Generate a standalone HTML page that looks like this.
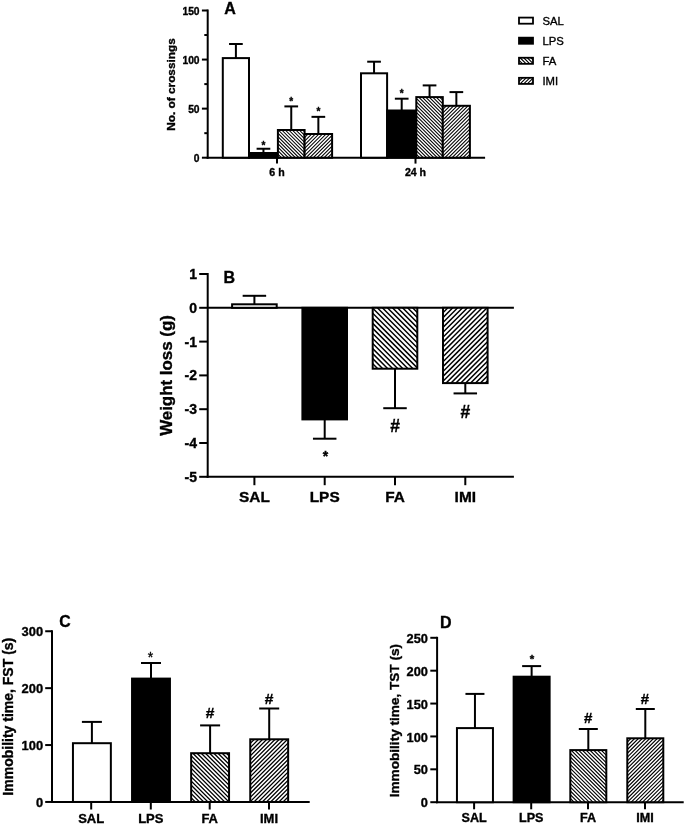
<!DOCTYPE html><html><head><meta charset="utf-8"><style>html,body{margin:0;padding:0;background:#fff;width:685px;height:824px;overflow:hidden}svg{display:block;will-change:transform;font-family:"Liberation Sans",sans-serif}text{stroke:#000;stroke-width:0.35px}</style></head><body>
<svg width="685" height="824" viewBox="0 0 685 824">
<rect width="685" height="824" fill="#fff"/>
<line x1="207.70" y1="9.50" x2="207.70" y2="158.70" stroke="#000" stroke-width="2.0"/>
<line x1="206.70" y1="157.70" x2="485.10" y2="157.70" stroke="#000" stroke-width="2.0"/>
<line x1="201.90" y1="157.70" x2="207.70" y2="157.70" stroke="#000" stroke-width="2.0"/>
<text x="199.60" y="161.80" font-size="10.3" text-anchor="end" font-weight="bold">0</text>
<line x1="201.90" y1="108.63" x2="207.70" y2="108.63" stroke="#000" stroke-width="2.0"/>
<text x="199.60" y="112.73" font-size="10.3" text-anchor="end" font-weight="bold">50</text>
<line x1="201.90" y1="59.57" x2="207.70" y2="59.57" stroke="#000" stroke-width="2.0"/>
<text x="199.60" y="63.67" font-size="10.3" text-anchor="end" font-weight="bold">100</text>
<line x1="201.90" y1="10.50" x2="207.70" y2="10.50" stroke="#000" stroke-width="2.0"/>
<text x="199.60" y="14.60" font-size="10.3" text-anchor="end" font-weight="bold">150</text>
<line x1="204.30" y1="133.17" x2="207.70" y2="133.17" stroke="#000" stroke-width="2.0"/>
<line x1="204.30" y1="84.10" x2="207.70" y2="84.10" stroke="#000" stroke-width="2.0"/>
<line x1="204.30" y1="35.03" x2="207.70" y2="35.03" stroke="#000" stroke-width="2.0"/>
<line x1="277.00" y1="157.70" x2="277.00" y2="163.60" stroke="#000" stroke-width="2.0"/>
<text x="277.00" y="176.00" font-size="10.6" text-anchor="middle" font-weight="bold">6 h</text>
<line x1="415.50" y1="157.70" x2="415.50" y2="163.60" stroke="#000" stroke-width="2.0"/>
<text x="415.50" y="176.00" font-size="10.6" text-anchor="middle" font-weight="bold">24 h</text>
<line x1="235.90" y1="58.10" x2="235.90" y2="44.00" stroke="#000" stroke-width="2.0"/>
<line x1="229.05" y1="44.00" x2="242.75" y2="44.00" stroke="#000" stroke-width="2.0"/>
<rect x="222.80" y="58.10" width="26.20" height="99.60" fill="#fff" stroke="#000" stroke-width="2.0"/>
<line x1="263.45" y1="153.00" x2="263.45" y2="148.75" stroke="#000" stroke-width="2.0"/>
<line x1="256.60" y1="148.75" x2="270.30" y2="148.75" stroke="#000" stroke-width="2.0"/>
<rect x="249.00" y="153.00" width="28.90" height="4.70" fill="#000" stroke="#000" stroke-width="2.0"/>
<text x="263.45" y="148.90" font-size="10" text-anchor="middle" font-weight="bold">*</text>
<line x1="291.25" y1="130.00" x2="291.25" y2="106.40" stroke="#000" stroke-width="2.0"/>
<line x1="284.40" y1="106.40" x2="298.10" y2="106.40" stroke="#000" stroke-width="2.0"/>
<rect x="277.90" y="130.00" width="26.70" height="27.70" fill="#fff"/>
<clipPath id="hc1"><rect x="277.90" y="130.00" width="26.70" height="27.70"/></clipPath>
<path d="M246.70 130.00L274.40 157.70M250.20 130.00L277.90 157.70M253.70 130.00L281.40 157.70M257.20 130.00L284.90 157.70M260.70 130.00L288.40 157.70M264.20 130.00L291.90 157.70M267.70 130.00L295.40 157.70M271.20 130.00L298.90 157.70M274.70 130.00L302.40 157.70M278.20 130.00L305.90 157.70M281.70 130.00L309.40 157.70M285.20 130.00L312.90 157.70M288.70 130.00L316.40 157.70M292.20 130.00L319.90 157.70M295.70 130.00L323.40 157.70M299.20 130.00L326.90 157.70M302.70 130.00L330.40 157.70M306.20 130.00L333.90 157.70" stroke="#000" stroke-width="1.05" fill="none" clip-path="url(#hc1)"/>
<rect x="277.90" y="130.00" width="26.70" height="27.70" fill="none" stroke="#000" stroke-width="2.0"/>
<text x="291.25" y="104.80" font-size="10" text-anchor="middle" font-weight="bold">*</text>
<line x1="318.35" y1="134.00" x2="318.35" y2="116.85" stroke="#000" stroke-width="2.0"/>
<line x1="311.50" y1="116.85" x2="325.20" y2="116.85" stroke="#000" stroke-width="2.0"/>
<rect x="304.60" y="134.00" width="27.50" height="23.70" fill="#fff"/>
<clipPath id="hc2"><rect x="304.60" y="134.00" width="27.50" height="23.70"/></clipPath>
<path d="M277.30 157.70L301.00 134.00M280.90 157.70L304.60 134.00M284.50 157.70L308.20 134.00M288.10 157.70L311.80 134.00M291.70 157.70L315.40 134.00M295.30 157.70L319.00 134.00M298.90 157.70L322.60 134.00M302.50 157.70L326.20 134.00M306.10 157.70L329.80 134.00M309.70 157.70L333.40 134.00M313.30 157.70L337.00 134.00M316.90 157.70L340.60 134.00M320.50 157.70L344.20 134.00M324.10 157.70L347.80 134.00M327.70 157.70L351.40 134.00M331.30 157.70L355.00 134.00M334.90 157.70L358.60 134.00" stroke="#000" stroke-width="1.05" fill="none" clip-path="url(#hc2)"/>
<rect x="304.60" y="134.00" width="27.50" height="23.70" fill="none" stroke="#000" stroke-width="2.0"/>
<text x="318.35" y="114.70" font-size="10" text-anchor="middle" font-weight="bold">*</text>
<line x1="374.05" y1="73.30" x2="374.05" y2="61.70" stroke="#000" stroke-width="2.0"/>
<line x1="367.20" y1="61.70" x2="380.90" y2="61.70" stroke="#000" stroke-width="2.0"/>
<rect x="361.00" y="73.30" width="26.10" height="84.40" fill="#fff" stroke="#000" stroke-width="2.0"/>
<line x1="401.70" y1="110.50" x2="401.70" y2="98.70" stroke="#000" stroke-width="2.0"/>
<line x1="394.85" y1="98.70" x2="408.55" y2="98.70" stroke="#000" stroke-width="2.0"/>
<rect x="387.10" y="110.50" width="29.20" height="47.20" fill="#000" stroke="#000" stroke-width="2.0"/>
<text x="401.70" y="97.30" font-size="10" text-anchor="middle" font-weight="bold">*</text>
<line x1="429.55" y1="97.10" x2="429.55" y2="85.40" stroke="#000" stroke-width="2.0"/>
<line x1="422.70" y1="85.40" x2="436.40" y2="85.40" stroke="#000" stroke-width="2.0"/>
<rect x="416.30" y="97.10" width="26.50" height="60.60" fill="#fff"/>
<clipPath id="hc3"><rect x="416.30" y="97.10" width="26.50" height="60.60"/></clipPath>
<path d="M352.20 97.10L412.80 157.70M355.70 97.10L416.30 157.70M359.20 97.10L419.80 157.70M362.70 97.10L423.30 157.70M366.20 97.10L426.80 157.70M369.70 97.10L430.30 157.70M373.20 97.10L433.80 157.70M376.70 97.10L437.30 157.70M380.20 97.10L440.80 157.70M383.70 97.10L444.30 157.70M387.20 97.10L447.80 157.70M390.70 97.10L451.30 157.70M394.20 97.10L454.80 157.70M397.70 97.10L458.30 157.70M401.20 97.10L461.80 157.70M404.70 97.10L465.30 157.70M408.20 97.10L468.80 157.70M411.70 97.10L472.30 157.70M415.20 97.10L475.80 157.70M418.70 97.10L479.30 157.70M422.20 97.10L482.80 157.70M425.70 97.10L486.30 157.70M429.20 97.10L489.80 157.70M432.70 97.10L493.30 157.70M436.20 97.10L496.80 157.70M439.70 97.10L500.30 157.70M443.20 97.10L503.80 157.70" stroke="#000" stroke-width="1.05" fill="none" clip-path="url(#hc3)"/>
<rect x="416.30" y="97.10" width="26.50" height="60.60" fill="none" stroke="#000" stroke-width="2.0"/>
<line x1="456.35" y1="105.80" x2="456.35" y2="92.10" stroke="#000" stroke-width="2.0"/>
<line x1="449.50" y1="92.10" x2="463.20" y2="92.10" stroke="#000" stroke-width="2.0"/>
<rect x="442.80" y="105.80" width="27.10" height="51.90" fill="#fff"/>
<clipPath id="hc4"><rect x="442.80" y="105.80" width="27.10" height="51.90"/></clipPath>
<path d="M387.30 157.70L439.20 105.80M390.90 157.70L442.80 105.80M394.50 157.70L446.40 105.80M398.10 157.70L450.00 105.80M401.70 157.70L453.60 105.80M405.30 157.70L457.20 105.80M408.90 157.70L460.80 105.80M412.50 157.70L464.40 105.80M416.10 157.70L468.00 105.80M419.70 157.70L471.60 105.80M423.30 157.70L475.20 105.80M426.90 157.70L478.80 105.80M430.50 157.70L482.40 105.80M434.10 157.70L486.00 105.80M437.70 157.70L489.60 105.80M441.30 157.70L493.20 105.80M444.90 157.70L496.80 105.80M448.50 157.70L500.40 105.80M452.10 157.70L504.00 105.80M455.70 157.70L507.60 105.80M459.30 157.70L511.20 105.80M462.90 157.70L514.80 105.80M466.50 157.70L518.40 105.80M470.10 157.70L522.00 105.80" stroke="#000" stroke-width="1.05" fill="none" clip-path="url(#hc4)"/>
<rect x="442.80" y="105.80" width="27.10" height="51.90" fill="none" stroke="#000" stroke-width="2.0"/>
<text x="224.30" y="13.60" font-size="16" text-anchor="start" font-weight="bold">A</text>
<text x="0" y="0" font-size="11.8" text-anchor="middle" font-weight="bold" transform="translate(174.80,84.50) rotate(-90)">No. of crossings</text>
<rect x="519.00" y="17.60" width="14.00" height="6.10" fill="#fff" stroke="#000" stroke-width="1.8"/>
<text x="542.40" y="24.55" font-size="11.3" text-anchor="start" font-weight="normal">SAL</text>
<rect x="519.00" y="37.67" width="14.00" height="6.10" fill="#000" stroke="#000" stroke-width="1.8"/>
<text x="542.40" y="44.62" font-size="11.3" text-anchor="start" font-weight="normal">LPS</text>
<rect x="519.00" y="57.74" width="14.00" height="6.10" fill="#fff"/>
<clipPath id="hc5"><rect x="519.00" y="57.74" width="14.00" height="6.10"/></clipPath>
<path d="M509.30 57.74L515.40 63.84M512.90 57.74L519.00 63.84M516.50 57.74L522.60 63.84M520.10 57.74L526.20 63.84M523.70 57.74L529.80 63.84M527.30 57.74L533.40 63.84M530.90 57.74L537.00 63.84M534.50 57.74L540.60 63.84" stroke="#000" stroke-width="1.1" fill="none" clip-path="url(#hc5)"/>
<rect x="519.00" y="57.74" width="14.00" height="6.10" fill="none" stroke="#000" stroke-width="1.8"/>
<text x="542.40" y="64.69" font-size="11.3" text-anchor="start" font-weight="normal">FA</text>
<rect x="519.00" y="77.81" width="14.00" height="6.10" fill="#fff"/>
<clipPath id="hc6"><rect x="519.00" y="77.81" width="14.00" height="6.10"/></clipPath>
<path d="M509.30 83.91L515.40 77.81M512.90 83.91L519.00 77.81M516.50 83.91L522.60 77.81M520.10 83.91L526.20 77.81M523.70 83.91L529.80 77.81M527.30 83.91L533.40 77.81M530.90 83.91L537.00 77.81M534.50 83.91L540.60 77.81" stroke="#000" stroke-width="1.1" fill="none" clip-path="url(#hc6)"/>
<rect x="519.00" y="77.81" width="14.00" height="6.10" fill="none" stroke="#000" stroke-width="1.8"/>
<text x="542.40" y="84.76" font-size="11.3" text-anchor="start" font-weight="normal">IMI</text>
<line x1="207.70" y1="273.00" x2="207.70" y2="477.80" stroke="#000" stroke-width="2.0"/>
<line x1="206.70" y1="476.80" x2="513.90" y2="476.80" stroke="#000" stroke-width="2.0"/>
<line x1="207.70" y1="307.80" x2="513.90" y2="307.80" stroke="#000" stroke-width="2.0"/>
<line x1="199.20" y1="274.00" x2="207.70" y2="274.00" stroke="#000" stroke-width="2.0"/>
<text x="197.00" y="279.00" font-size="14" text-anchor="end" font-weight="bold">1</text>
<line x1="199.20" y1="307.80" x2="207.70" y2="307.80" stroke="#000" stroke-width="2.0"/>
<text x="197.00" y="312.80" font-size="14" text-anchor="end" font-weight="bold">0</text>
<line x1="199.20" y1="341.60" x2="207.70" y2="341.60" stroke="#000" stroke-width="2.0"/>
<text x="197.00" y="346.60" font-size="14" text-anchor="end" font-weight="bold">-1</text>
<line x1="199.20" y1="375.40" x2="207.70" y2="375.40" stroke="#000" stroke-width="2.0"/>
<text x="197.00" y="380.40" font-size="14" text-anchor="end" font-weight="bold">-2</text>
<line x1="199.20" y1="409.20" x2="207.70" y2="409.20" stroke="#000" stroke-width="2.0"/>
<text x="197.00" y="414.20" font-size="14" text-anchor="end" font-weight="bold">-3</text>
<line x1="199.20" y1="443.00" x2="207.70" y2="443.00" stroke="#000" stroke-width="2.0"/>
<text x="197.00" y="448.00" font-size="14" text-anchor="end" font-weight="bold">-4</text>
<line x1="199.20" y1="476.80" x2="207.70" y2="476.80" stroke="#000" stroke-width="2.0"/>
<text x="197.00" y="481.80" font-size="14" text-anchor="end" font-weight="bold">-5</text>
<line x1="254.40" y1="476.80" x2="254.40" y2="485.20" stroke="#000" stroke-width="2.0"/>
<text x="254.40" y="502.20" font-size="15.4" text-anchor="middle" font-weight="bold">SAL</text>
<line x1="324.70" y1="476.80" x2="324.70" y2="485.20" stroke="#000" stroke-width="2.0"/>
<text x="324.70" y="502.20" font-size="15.4" text-anchor="middle" font-weight="bold">LPS</text>
<line x1="395.00" y1="476.80" x2="395.00" y2="485.20" stroke="#000" stroke-width="2.0"/>
<text x="395.00" y="502.20" font-size="15.4" text-anchor="middle" font-weight="bold">FA</text>
<line x1="465.30" y1="476.80" x2="465.30" y2="485.20" stroke="#000" stroke-width="2.0"/>
<text x="465.30" y="502.20" font-size="15.4" text-anchor="middle" font-weight="bold">IMI</text>
<line x1="254.40" y1="304.30" x2="254.40" y2="295.80" stroke="#000" stroke-width="2.0"/>
<line x1="242.65" y1="295.80" x2="266.15" y2="295.80" stroke="#000" stroke-width="2.0"/>
<rect x="232.10" y="304.30" width="44.60" height="3.50" fill="#fff" stroke="#000" stroke-width="2.0"/>
<line x1="324.70" y1="419.40" x2="324.70" y2="438.70" stroke="#000" stroke-width="2.0"/>
<line x1="312.95" y1="438.70" x2="336.45" y2="438.70" stroke="#000" stroke-width="2.0"/>
<rect x="302.40" y="307.80" width="44.60" height="111.60" fill="#000" stroke="#000" stroke-width="2.0"/>
<line x1="395.00" y1="368.70" x2="395.00" y2="408.20" stroke="#000" stroke-width="2.0"/>
<line x1="383.25" y1="408.20" x2="406.75" y2="408.20" stroke="#000" stroke-width="2.0"/>
<rect x="372.70" y="307.80" width="44.60" height="60.90" fill="#fff"/>
<clipPath id="hc7"><rect x="372.70" y="307.80" width="44.60" height="60.90"/></clipPath>
<path d="M306.76 307.80L367.66 368.70M311.80 307.80L372.70 368.70M316.84 307.80L377.74 368.70M321.88 307.80L382.78 368.70M326.92 307.80L387.82 368.70M331.96 307.80L392.86 368.70M337.00 307.80L397.90 368.70M342.04 307.80L402.94 368.70M347.08 307.80L407.98 368.70M352.12 307.80L413.02 368.70M357.16 307.80L418.06 368.70M362.20 307.80L423.10 368.70M367.24 307.80L428.14 368.70M372.28 307.80L433.18 368.70M377.32 307.80L438.22 368.70M382.36 307.80L443.26 368.70M387.40 307.80L448.30 368.70M392.44 307.80L453.34 368.70M397.48 307.80L458.38 368.70M402.52 307.80L463.42 368.70M407.56 307.80L468.46 368.70M412.60 307.80L473.50 368.70M417.64 307.80L478.54 368.70" stroke="#000" stroke-width="1.5" fill="none" clip-path="url(#hc7)"/>
<rect x="372.70" y="307.80" width="44.60" height="60.90" fill="none" stroke="#000" stroke-width="2.0"/>
<line x1="465.30" y1="383.10" x2="465.30" y2="393.40" stroke="#000" stroke-width="2.0"/>
<line x1="453.55" y1="393.40" x2="477.05" y2="393.40" stroke="#000" stroke-width="2.0"/>
<rect x="443.00" y="307.80" width="44.60" height="75.30" fill="#fff"/>
<clipPath id="hc8"><rect x="443.00" y="307.80" width="44.60" height="75.30"/></clipPath>
<path d="M362.80 383.10L438.10 307.80M367.70 383.10L443.00 307.80M372.60 383.10L447.90 307.80M377.50 383.10L452.80 307.80M382.40 383.10L457.70 307.80M387.30 383.10L462.60 307.80M392.20 383.10L467.50 307.80M397.10 383.10L472.40 307.80M402.00 383.10L477.30 307.80M406.90 383.10L482.20 307.80M411.80 383.10L487.10 307.80M416.70 383.10L492.00 307.80M421.60 383.10L496.90 307.80M426.50 383.10L501.80 307.80M431.40 383.10L506.70 307.80M436.30 383.10L511.60 307.80M441.20 383.10L516.50 307.80M446.10 383.10L521.40 307.80M451.00 383.10L526.30 307.80M455.90 383.10L531.20 307.80M460.80 383.10L536.10 307.80M465.70 383.10L541.00 307.80M470.60 383.10L545.90 307.80M475.50 383.10L550.80 307.80M480.40 383.10L555.70 307.80M485.30 383.10L560.60 307.80M490.20 383.10L565.50 307.80" stroke="#000" stroke-width="1.45" fill="none" clip-path="url(#hc8)"/>
<rect x="443.00" y="307.80" width="44.60" height="75.30" fill="none" stroke="#000" stroke-width="2.0"/>
<text x="325.40" y="460.50" font-size="14" text-anchor="middle" font-weight="bold">*</text>
<text x="395.15" y="431.80" font-size="17.5" text-anchor="middle" font-weight="bold">#</text>
<text x="465.45" y="418.20" font-size="17.5" text-anchor="middle" font-weight="bold">#</text>
<text x="223.50" y="282.90" font-size="16" text-anchor="start" font-weight="bold">B</text>
<text x="0" y="0" font-size="16.9" text-anchor="middle" font-weight="bold" transform="translate(172.20,375.50) rotate(-90)">Weight loss (g)</text>
<line x1="52.00" y1="630.25" x2="52.00" y2="802.95" stroke="#000" stroke-width="2.0"/>
<line x1="51.00" y1="801.95" x2="309.70" y2="801.95" stroke="#000" stroke-width="2.0"/>
<line x1="45.20" y1="801.95" x2="52.00" y2="801.95" stroke="#000" stroke-width="2.0"/>
<text x="43.10" y="806.55" font-size="12.9" text-anchor="end" font-weight="bold">0</text>
<line x1="45.20" y1="745.05" x2="52.00" y2="745.05" stroke="#000" stroke-width="2.0"/>
<text x="43.10" y="749.65" font-size="12.9" text-anchor="end" font-weight="bold">100</text>
<line x1="45.20" y1="688.15" x2="52.00" y2="688.15" stroke="#000" stroke-width="2.0"/>
<text x="43.10" y="692.75" font-size="12.9" text-anchor="end" font-weight="bold">200</text>
<line x1="45.20" y1="631.25" x2="52.00" y2="631.25" stroke="#000" stroke-width="2.0"/>
<text x="43.10" y="635.85" font-size="12.9" text-anchor="end" font-weight="bold">300</text>
<line x1="91.20" y1="801.95" x2="91.20" y2="809.50" stroke="#000" stroke-width="2.0"/>
<text x="91.20" y="822.60" font-size="13.0" text-anchor="middle" font-weight="bold">SAL</text>
<line x1="150.80" y1="801.95" x2="150.80" y2="809.50" stroke="#000" stroke-width="2.0"/>
<text x="150.80" y="822.60" font-size="13.0" text-anchor="middle" font-weight="bold">LPS</text>
<line x1="209.70" y1="801.95" x2="209.70" y2="809.50" stroke="#000" stroke-width="2.0"/>
<text x="209.70" y="822.60" font-size="13.0" text-anchor="middle" font-weight="bold">FA</text>
<line x1="269.00" y1="801.95" x2="269.00" y2="809.50" stroke="#000" stroke-width="2.0"/>
<text x="269.00" y="822.60" font-size="13.0" text-anchor="middle" font-weight="bold">IMI</text>
<line x1="91.90" y1="743.20" x2="91.90" y2="721.90" stroke="#000" stroke-width="2.0"/>
<line x1="81.90" y1="721.90" x2="101.90" y2="721.90" stroke="#000" stroke-width="2.0"/>
<rect x="72.95" y="743.20" width="37.90" height="58.75" fill="#fff" stroke="#000" stroke-width="2.0"/>
<line x1="151.00" y1="678.60" x2="151.00" y2="663.00" stroke="#000" stroke-width="2.0"/>
<line x1="141.00" y1="663.00" x2="161.00" y2="663.00" stroke="#000" stroke-width="2.0"/>
<rect x="132.05" y="678.60" width="37.90" height="123.35" fill="#000" stroke="#000" stroke-width="2.0"/>
<line x1="210.10" y1="753.20" x2="210.10" y2="725.40" stroke="#000" stroke-width="2.0"/>
<line x1="200.10" y1="725.40" x2="220.10" y2="725.40" stroke="#000" stroke-width="2.0"/>
<rect x="191.15" y="753.20" width="37.90" height="48.75" fill="#fff"/>
<clipPath id="hc9"><rect x="191.15" y="753.20" width="37.90" height="48.75"/></clipPath>
<path d="M138.20 753.20L186.95 801.95M142.40 753.20L191.15 801.95M146.60 753.20L195.35 801.95M150.80 753.20L199.55 801.95M155.00 753.20L203.75 801.95M159.20 753.20L207.95 801.95M163.40 753.20L212.15 801.95M167.60 753.20L216.35 801.95M171.80 753.20L220.55 801.95M176.00 753.20L224.75 801.95M180.20 753.20L228.95 801.95M184.40 753.20L233.15 801.95M188.60 753.20L237.35 801.95M192.80 753.20L241.55 801.95M197.00 753.20L245.75 801.95M201.20 753.20L249.95 801.95M205.40 753.20L254.15 801.95M209.60 753.20L258.35 801.95M213.80 753.20L262.55 801.95M218.00 753.20L266.75 801.95M222.20 753.20L270.95 801.95M226.40 753.20L275.15 801.95M230.60 753.20L279.35 801.95" stroke="#000" stroke-width="1.3" fill="none" clip-path="url(#hc9)"/>
<rect x="191.15" y="753.20" width="37.90" height="48.75" fill="none" stroke="#000" stroke-width="2.0"/>
<line x1="269.20" y1="739.30" x2="269.20" y2="708.50" stroke="#000" stroke-width="2.0"/>
<line x1="259.20" y1="708.50" x2="279.20" y2="708.50" stroke="#000" stroke-width="2.0"/>
<rect x="250.25" y="739.30" width="37.90" height="62.65" fill="#fff"/>
<clipPath id="hc10"><rect x="250.25" y="739.30" width="37.90" height="62.65"/></clipPath>
<path d="M183.45 801.95L246.10 739.30M187.60 801.95L250.25 739.30M191.75 801.95L254.40 739.30M195.90 801.95L258.55 739.30M200.05 801.95L262.70 739.30M204.20 801.95L266.85 739.30M208.35 801.95L271.00 739.30M212.50 801.95L275.15 739.30M216.65 801.95L279.30 739.30M220.80 801.95L283.45 739.30M224.95 801.95L287.60 739.30M229.10 801.95L291.75 739.30M233.25 801.95L295.90 739.30M237.40 801.95L300.05 739.30M241.55 801.95L304.20 739.30M245.70 801.95L308.35 739.30M249.85 801.95L312.50 739.30M254.00 801.95L316.65 739.30M258.15 801.95L320.80 739.30M262.30 801.95L324.95 739.30M266.45 801.95L329.10 739.30M270.60 801.95L333.25 739.30M274.75 801.95L337.40 739.30M278.90 801.95L341.55 739.30M283.05 801.95L345.70 739.30M287.20 801.95L349.85 739.30M291.35 801.95L354.00 739.30" stroke="#000" stroke-width="1.3" fill="none" clip-path="url(#hc10)"/>
<rect x="250.25" y="739.30" width="37.90" height="62.65" fill="none" stroke="#000" stroke-width="2.0"/>
<text x="150.50" y="661.90" font-size="14" text-anchor="middle" font-weight="normal">*</text>
<text x="210.00" y="718.10" font-size="15.5" text-anchor="middle" font-weight="bold">#</text>
<text x="269.00" y="703.80" font-size="15.5" text-anchor="middle" font-weight="bold">#</text>
<text x="59.20" y="626.80" font-size="15.8" text-anchor="start" font-weight="bold">C</text>
<text x="0" y="0" font-size="14.0" text-anchor="middle" font-weight="bold" transform="translate(13.00,716.70) rotate(-90)">Immobility time, FST (s)</text>
<line x1="437.10" y1="636.80" x2="437.10" y2="803.20" stroke="#000" stroke-width="2.0"/>
<line x1="436.10" y1="802.20" x2="683.70" y2="802.20" stroke="#000" stroke-width="2.0"/>
<line x1="430.30" y1="802.20" x2="437.10" y2="802.20" stroke="#000" stroke-width="2.0"/>
<text x="427.90" y="807.30" font-size="12.8" text-anchor="end" font-weight="bold">0</text>
<line x1="430.30" y1="769.32" x2="437.10" y2="769.32" stroke="#000" stroke-width="2.0"/>
<text x="427.90" y="774.42" font-size="12.8" text-anchor="end" font-weight="bold">50</text>
<line x1="430.30" y1="736.44" x2="437.10" y2="736.44" stroke="#000" stroke-width="2.0"/>
<text x="427.90" y="741.54" font-size="12.8" text-anchor="end" font-weight="bold">100</text>
<line x1="430.30" y1="703.56" x2="437.10" y2="703.56" stroke="#000" stroke-width="2.0"/>
<text x="427.90" y="708.66" font-size="12.8" text-anchor="end" font-weight="bold">150</text>
<line x1="430.30" y1="670.68" x2="437.10" y2="670.68" stroke="#000" stroke-width="2.0"/>
<text x="427.90" y="675.78" font-size="12.8" text-anchor="end" font-weight="bold">200</text>
<line x1="430.30" y1="637.80" x2="437.10" y2="637.80" stroke="#000" stroke-width="2.0"/>
<text x="427.90" y="642.90" font-size="12.8" text-anchor="end" font-weight="bold">250</text>
<line x1="474.10" y1="802.20" x2="474.10" y2="809.30" stroke="#000" stroke-width="2.0"/>
<text x="474.10" y="822.10" font-size="12.6" text-anchor="middle" font-weight="bold">SAL</text>
<line x1="531.20" y1="802.20" x2="531.20" y2="809.30" stroke="#000" stroke-width="2.0"/>
<text x="531.20" y="822.10" font-size="12.6" text-anchor="middle" font-weight="bold">LPS</text>
<line x1="588.00" y1="802.20" x2="588.00" y2="809.30" stroke="#000" stroke-width="2.0"/>
<text x="588.00" y="822.10" font-size="12.6" text-anchor="middle" font-weight="bold">FA</text>
<line x1="645.00" y1="802.20" x2="645.00" y2="809.30" stroke="#000" stroke-width="2.0"/>
<text x="645.00" y="822.10" font-size="12.6" text-anchor="middle" font-weight="bold">IMI</text>
<line x1="474.95" y1="728.10" x2="474.95" y2="693.90" stroke="#000" stroke-width="2.0"/>
<line x1="465.45" y1="693.90" x2="484.45" y2="693.90" stroke="#000" stroke-width="2.0"/>
<rect x="456.95" y="728.10" width="36.00" height="74.10" fill="#fff" stroke="#000" stroke-width="2.0"/>
<line x1="531.63" y1="676.70" x2="531.63" y2="666.10" stroke="#000" stroke-width="2.0"/>
<line x1="522.13" y1="666.10" x2="541.13" y2="666.10" stroke="#000" stroke-width="2.0"/>
<rect x="513.63" y="676.70" width="36.00" height="125.50" fill="#000" stroke="#000" stroke-width="2.0"/>
<line x1="588.31" y1="750.10" x2="588.31" y2="729.00" stroke="#000" stroke-width="2.0"/>
<line x1="578.81" y1="729.00" x2="597.81" y2="729.00" stroke="#000" stroke-width="2.0"/>
<rect x="570.31" y="750.10" width="36.00" height="52.10" fill="#fff"/>
<clipPath id="hc11"><rect x="570.31" y="750.10" width="36.00" height="52.10"/></clipPath>
<path d="M514.44 750.10L566.54 802.20M518.21 750.10L570.31 802.20M521.98 750.10L574.08 802.20M525.75 750.10L577.85 802.20M529.52 750.10L581.62 802.20M533.29 750.10L585.39 802.20M537.06 750.10L589.16 802.20M540.83 750.10L592.93 802.20M544.60 750.10L596.70 802.20M548.37 750.10L600.47 802.20M552.14 750.10L604.24 802.20M555.91 750.10L608.01 802.20M559.68 750.10L611.78 802.20M563.45 750.10L615.55 802.20M567.22 750.10L619.32 802.20M570.99 750.10L623.09 802.20M574.76 750.10L626.86 802.20M578.53 750.10L630.63 802.20M582.30 750.10L634.40 802.20M586.07 750.10L638.17 802.20M589.84 750.10L641.94 802.20M593.61 750.10L645.71 802.20M597.38 750.10L649.48 802.20M601.15 750.10L653.25 802.20M604.92 750.10L657.02 802.20M608.69 750.10L660.79 802.20" stroke="#000" stroke-width="1.15" fill="none" clip-path="url(#hc11)"/>
<rect x="570.31" y="750.10" width="36.00" height="52.10" fill="none" stroke="#000" stroke-width="2.0"/>
<line x1="645.30" y1="738.30" x2="645.30" y2="709.00" stroke="#000" stroke-width="2.0"/>
<line x1="635.80" y1="709.00" x2="654.80" y2="709.00" stroke="#000" stroke-width="2.0"/>
<rect x="627.30" y="738.30" width="36.00" height="63.90" fill="#fff"/>
<clipPath id="hc12"><rect x="627.30" y="738.30" width="36.00" height="63.90"/></clipPath>
<path d="M559.63 802.20L623.53 738.30M563.40 802.20L627.30 738.30M567.17 802.20L631.07 738.30M570.94 802.20L634.84 738.30M574.71 802.20L638.61 738.30M578.48 802.20L642.38 738.30M582.25 802.20L646.15 738.30M586.02 802.20L649.92 738.30M589.79 802.20L653.69 738.30M593.56 802.20L657.46 738.30M597.33 802.20L661.23 738.30M601.10 802.20L665.00 738.30M604.87 802.20L668.77 738.30M608.64 802.20L672.54 738.30M612.41 802.20L676.31 738.30M616.18 802.20L680.08 738.30M619.95 802.20L683.85 738.30M623.72 802.20L687.62 738.30M627.49 802.20L691.39 738.30M631.26 802.20L695.16 738.30M635.03 802.20L698.93 738.30M638.80 802.20L702.70 738.30M642.57 802.20L706.47 738.30M646.34 802.20L710.24 738.30M650.11 802.20L714.01 738.30M653.88 802.20L717.78 738.30M657.65 802.20L721.55 738.30M661.42 802.20L725.32 738.30M665.19 802.20L729.09 738.30" stroke="#000" stroke-width="1.15" fill="none" clip-path="url(#hc12)"/>
<rect x="627.30" y="738.30" width="36.00" height="63.90" fill="none" stroke="#000" stroke-width="2.0"/>
<text x="531.90" y="662.60" font-size="11.5" text-anchor="middle" font-weight="bold">*</text>
<text x="588.10" y="723.10" font-size="15" text-anchor="middle" font-weight="bold">#</text>
<text x="645.00" y="703.80" font-size="15" text-anchor="middle" font-weight="bold">#</text>
<text x="439.90" y="627.90" font-size="16" text-anchor="start" font-weight="bold">D</text>
<text x="0" y="0" font-size="13.6" text-anchor="middle" font-weight="bold" transform="translate(399.10,720.60) rotate(-90)">Immobility time, TST (s)</text>
</svg></body></html>
